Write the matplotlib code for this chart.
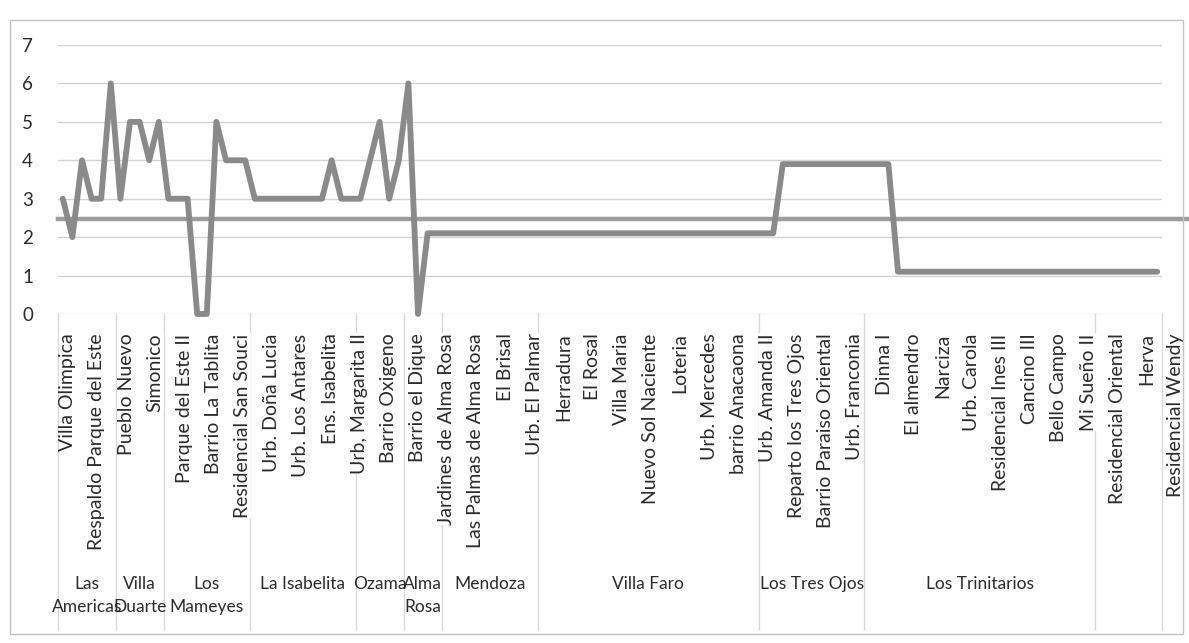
import matplotlib
matplotlib.use("Agg")
import matplotlib.pyplot as plt
from matplotlib.patches import Rectangle
from matplotlib.transforms import ScaledTranslation

# one value per barrio, in axis order (115 barrios)
values = [
    3, 2, 4, 3, 3, 6, 3, 5, 5, 4,
    5, 3, 3, 3, 0, 0, 5, 4, 4, 4,
    3, 3, 3, 3, 3, 3, 3, 3, 4, 3,
    3, 3, 4, 5, 3, 4, 6, 0, 2.1, 2.1,
    2.1, 2.1, 2.1, 2.1, 2.1, 2.1, 2.1, 2.1, 2.1, 2.1,
    2.1, 2.1, 2.1, 2.1, 2.1, 2.1, 2.1, 2.1, 2.1, 2.1,
    2.1, 2.1, 2.1, 2.1, 2.1, 2.1, 2.1, 2.1, 2.1, 2.1,
    2.1, 2.1, 2.1, 2.1, 2.1, 3.9, 3.9, 3.9, 3.9, 3.9,
    3.9, 3.9, 3.9, 3.9, 3.9, 3.9, 3.9, 1.1, 1.1, 1.1,
    1.1, 1.1, 1.1, 1.1, 1.1, 1.1, 1.1, 1.1, 1.1, 1.1,
    1.1, 1.1, 1.1, 1.1, 1.1, 1.1, 1.1, 1.1, 1.1, 1.1,
    1.1, 1.1, 1.1, 1.1, 1.1,
]
avg_value = 2.46

# Excel only printed every third barrio name
tick_step = 3
tick_labels = [
    "Villa Olimpica", "Respaldo Parque del Este", "Pueblo Nuevo", "Simonico",
    "Parque del Este II", "Barrio La Tablita", "Residencial San Souci",
    "Urb. Doña Lucia", "Urb. Los Antares", "Ens. Isabelita", "Urb, Margarita II",
    "Barrio Oxigeno", "Barrio el Dique", "Jardines de Alma Rosa",
    "Las Palmas de Alma Rosa", "El Brisal", "Urb. El Palmar", "Herradura",
    "El Rosal", "Villa Maria", "Nuevo Sol Naciente", "Loteria", "Urb. Mercedes",
    "barrio Anacaona", "Urb. Amanda II", "Reparto los Tres Ojos",
    "Barrio Paraiso Oriental", "Urb. Franconia", "Dinna I", "El almendro",
    "Narciza", "Urb. Carola", "Residencial Ines III", "Cancino III",
    "Bello Campo", "Mi Sueño II", "Residencial Oriental", "Herva",
    "Residencial Wendy",
]

# sectors (outer axis level) and where each one starts
groups = ["Las\nAmericas", "Villa\nDuarte", "Los\nMameyes", "La Isabelita",
          "Ozama", "Alma\nRosa", "Mendoza", "Villa Faro", "Los Tres Ojos",
          "Los Trinitarios", ""]
group_bounds = [0, 6, 11, 20, 31, 36, 40, 50, 73, 84, 108, 115]

plt.rcParams['font.family'] = ['Lato', 'DejaVu Sans']
W, H = 1189, 643

fig = plt.figure(figsize=(W / 100, H / 100), dpi=100)
ax = fig.add_axes([58 / W, 1 - 314 / H, 1104 / W, 269 / H])

x = list(range(len(values)))
ax.plot(x, values, color='#8a8a8a', lw=4.2, solid_joinstyle='round',
        solid_capstyle='round', clip_on=False, zorder=3)
ax.axhline(avg_value, xmin=0, xmax=1.025, color='#9c9c9c', lw=3.2,
           clip_on=False, zorder=2)

ax.set_xlim(-0.5, len(values) - 0.5)
ax.set_ylim(0, 7)
ax.set_yticks(range(8))
ax.yaxis.grid(True, color='#d2d2d2', lw=1)
ax.set_axisbelow(True)
for s in ax.spines.values():
    s.set_visible(False)
ax.tick_params(axis='y', length=0, pad=18, labelsize=13.5, labelcolor='#2b2b2b')

ax.set_xticks(x[::tick_step])
ax.set_xticklabels(tick_labels, rotation=90, fontsize=14, color='#2b2b2b',
                   bbox=dict(fc='white', ec='none', pad=0))
ax.tick_params(axis='x', length=0, pad=14)
# Excel spreads the printed names slightly wider than the points
for k, lbl in enumerate(ax.get_xticklabels()):
    shift = ScaledTranslation((5 + 0.35 * k) / 100, 0, fig.dpi_scale_trans)
    lbl.set_transform(lbl.get_transform() + shift)

# outer level: separators and sector names
trans = ax.get_xaxis_transform()
for b in group_bounds:
    ax.plot([b - 0.5, b - 0.5], [0, -1.17], transform=trans, color='#d8d8d8',
            lw=1, clip_on=False, zorder=0.2)
for i, name in enumerate(groups):
    mid = (group_bounds[i] + group_bounds[i + 1] - 1) / 2
    ax.text(mid, -0.975, name, transform=trans, ha='center', va='top',
            fontsize=12.5, color='#2b2b2b', linespacing=1.55)

fig.add_artist(Rectangle((10 / W, 1 - 634 / H), 1173 / W, 614 / H,
                         transform=fig.transFigure, fill=False,
                         ec='#c4c4c4', lw=1))

fig.savefig("out.png", dpi=100)
